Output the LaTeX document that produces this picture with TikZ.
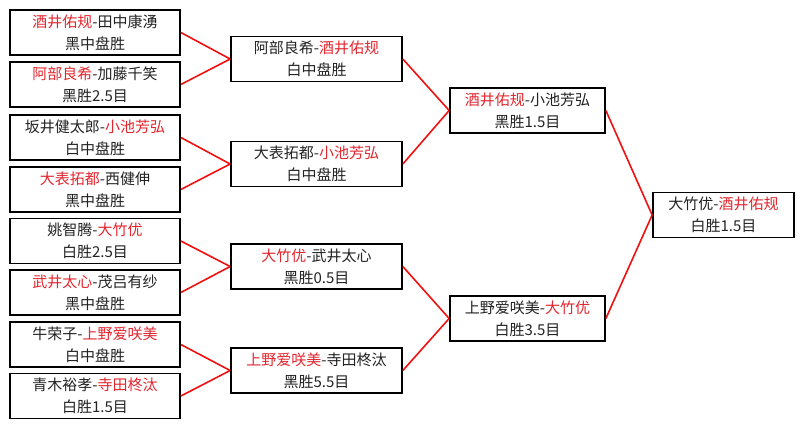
\documentclass[tikz,border=0pt]{standalone}
\usepackage{xcolor}
\usepackage{fontspec}
\usepackage{tikz}
\usetikzlibrary{positioning}
\newfontfamily\cjk{Noto Sans CJK SC}
\definecolor{winred}{HTML}{E3262E}
\definecolor{linkred}{HTML}{F01010}
\definecolor{ink}{HTML}{222222}
\newcommand{\win}[1]{\textcolor{winred}{#1}}

\begin{document}
\begin{tikzpicture}[x=1pt,y=-1pt,
  game/.style={draw=black,line width=1.7pt,fill=white,align=center,inner sep=0pt,
    minimum height=45pt,text=ink,font=\cjk\fontsize{15}{22}\selectfont},
  r1/.style={game,minimum width=170pt},
  r2/.style={game,minimum width=171pt},
  r3/.style={game,minimum width=155pt},
  fin/.style={game,minimum width=141pt},
  link/.style={linkred,line width=1.6pt}]
  \useasboundingbox (0,0) rectangle (803,429);
  % first round
  \node[r1] (m1) at (95,32.5) {\win{酒井佑规}-田中康湧\\黑中盘胜};
  \node[r1] (m2) at (95,84.5) {\win{阿部良希}-加藤千笑\\黑胜2.5目};
  \node[r1] (m3) at (95,137.5) {坂井健太郎-\win{小池芳弘}\\白中盘胜};
  \node[r1] (m4) at (95,189.5) {\win{大表拓都}-西健伸\\黑中盘胜};
  \node[r1] (m5) at (95,241) {姚智腾-\win{大竹优}\\白胜2.5目};
  \node[r1] (m6) at (95,292.5) {\win{武井太心}-茂吕有纱\\黑中盘胜};
  \node[r1] (m7) at (95,344.5) {牛荣子-\win{上野爱咲美}\\白中盘胜};
  \node[r1] (m8) at (95,396) {青木裕孝-\win{寺田柊汰}\\白胜1.5目};
  % second round
  \node[r2] (q1) at (316.5,59) {阿部良希-\win{酒井佑规}\\白中盘胜};
  \node[r2] (q2) at (316.5,164) {大表拓都-\win{小池芳弘}\\白中盘胜};
  \node[r2] (q3) at (316.5,266.5) {\win{大竹优}-武井太心\\黑胜0.5目};
  \node[r2] (q4) at (316.5,370.5) {\win{上野爱咲美}-寺田柊汰\\黑胜5.5目};
  % semifinals
  \node[r3] (s1) at (527.5,110.5) {\win{酒井佑规}-小池芳弘\\黑胜1.5目};
  \node[r3] (s2) at (527.5,318.5) {上野爱咲美-\win{大竹优}\\白胜3.5目};
  % final
  \node[fin] (f) at (723.5,215) {大竹优-\win{酒井佑规}\\白胜1.5目};
  % connectors
  \draw[link] (m1.east) -- (q1.west);
  \draw[link] (m2.east) -- (q1.west);
  \draw[link] (m3.east) -- (q2.west);
  \draw[link] (m4.east) -- (q2.west);
  \draw[link] (m5.east) -- (q3.west);
  \draw[link] (m6.east) -- (q3.west);
  \draw[link] (m7.east) -- (q4.west);
  \draw[link] (m8.east) -- (q4.west);
  \draw[link] (q1.east) -- (s1.west);
  \draw[link] (q2.east) -- (s1.west);
  \draw[link] (q3.east) -- (s2.west);
  \draw[link] (q4.east) -- (s2.west);
  \draw[link] (s1.east) -- (f.west);
  \draw[link] (s2.east) -- (f.west);
\end{tikzpicture}
\end{document}
